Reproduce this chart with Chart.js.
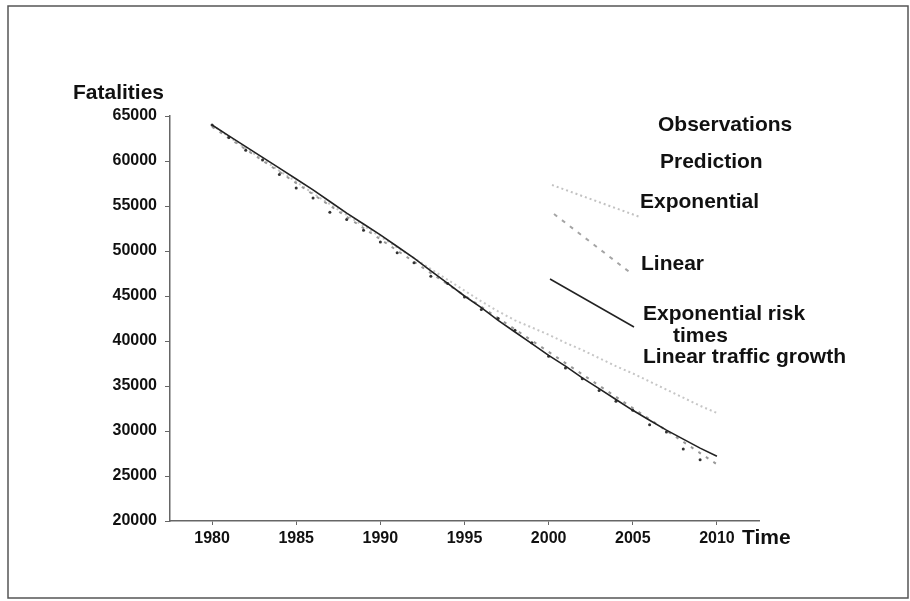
<!DOCTYPE html>
<html>
<head>
<meta charset="utf-8">
<script src="https://cdn.jsdelivr.net/npm/chart.js@4.4.0/dist/chart.umd.min.js"></script>
<style>
  html, body { margin: 0; padding: 0; background: #fff; }
  #wrap { width: 910px; height: 601px; }
</style>
</head>
<body>
<div id="wrap"><canvas id="fatalChart" width="910" height="601"></canvas></div>
<script>
// years on the x axis
const years = [1980, 1981, 1982, 1983, 1984, 1985, 1986, 1987, 1988, 1989, 1990,
               1991, 1992, 1993, 1994, 1995, 1996, 1997, 1998, 1999, 2000,
               2001, 2002, 2003, 2004, 2005, 2006, 2007, 2008, 2009, 2010];

// exponential risk times linear traffic growth (solid line)
const expRiskTraffic = [64000, 62800, 61600, 60400, 59200, 58000, 56800, 55500, 54200, 53000, 51800,
                        50500, 49200, 47800, 46400, 45000, 43700, 42300, 41000, 39700, 38400,
                        37200, 35900, 34700, 33500, 32300, 31200, 30100, 29100, 28100, 27200];

// exponential prediction (light dotted)
const exponential = [64000, 62700, 61400, 60200, 58900, 57700, 56400, 55200, 54000, 52800, 51600,
                     50400, 49200, 48000, 46800, 45600, 44400, 43300, 42300, 41500, 40700,
                     39800, 39000, 38100, 37200, 36400, 35500, 34600, 33700, 32800, 32000];

// linear prediction (grey dashed)
const linear = [63800, 62550, 61300, 60050, 58800, 57550, 56300, 55050, 53800, 52550, 51300,
                50050, 48800, 47550, 46300, 45050, 43800, 42550, 41300, 40050, 38800,
                37550, 36300, 35050, 33800, 32550, 31300, 30050, 28800, 27550, 26300];

// observations (dark dots)
const obsYears = [1980, 1981, 1982, 1983, 1984, 1985, 1986, 1987, 1988, 1989, 1990,
                  1991, 1992, 1993, 1994, 1995, 1996, 1997, 1998, 1999, 2000,
                  2001, 2002, 2003, 2004, 2005, 2006, 2007, 2008, 2009];
const observations = [64000, 62600, 61200, 60100, 58500, 57000, 55900, 54300, 53500, 52300, 51000,
                      49800, 48700, 47200, 46400, 44900, 43500, 42500, 41200, 39800, 38300,
                      37000, 35800, 34500, 33300, 32300, 30700, 29900, 28000, 26800];

const yTicks = [20000, 25000, 30000, 35000, 40000, 45000, 50000, 55000, 60000, 65000];
const xTicks = [1980, 1985, 1990, 1995, 2000, 2005, 2010];

const FONT = '"Liberation Sans", Arial, sans-serif';
const toPoints = (xs, ys) => xs.map((x, i) => ({ x: x, y: ys[i] }));

// frame, axis names and the hand-placed legend
const overlay = {
    id: 'overlay',
    afterDraw(chart) {
        const ctx = chart.ctx;
        const xs = chart.scales.x;
        ctx.save();
        ctx.strokeStyle = '#555';
        ctx.lineWidth = 1.5;
        ctx.strokeRect(8, 6, 900, 592);

        ctx.fillStyle = '#111';
        ctx.textBaseline = 'middle';
        ctx.textAlign = 'left';
        ctx.font = 'bold 21px ' + FONT;
        ctx.fillText('Fatalities', 73, 93);
        ctx.fillText('Time', xs.getPixelForValue(2010) + 25, 538);

        ctx.fillText('Observations', 658, 125);
        ctx.fillText('Prediction', 660, 162);
        ctx.fillText('Exponential', 640, 202);
        ctx.fillText('Linear', 641, 264);
        ctx.fillText('Exponential risk', 643, 314);
        ctx.fillText('times', 673, 336);
        ctx.fillText('Linear traffic growth', 643, 357);

        // legend samples
        ctx.lineWidth = 2;
        ctx.strokeStyle = '#c2c2c2';
        ctx.setLineDash([2, 3]);
        ctx.beginPath(); ctx.moveTo(552, 185); ctx.lineTo(640, 217); ctx.stroke();

        ctx.strokeStyle = '#a5a5a5';
        ctx.setLineDash([4, 6]);
        ctx.beginPath(); ctx.moveTo(554, 214); ctx.lineTo(632, 274); ctx.stroke();

        ctx.setLineDash([]);
        ctx.strokeStyle = '#222';
        ctx.lineWidth = 1.5;
        ctx.beginPath(); ctx.moveTo(550, 279); ctx.lineTo(634, 327); ctx.stroke();
        ctx.restore();
    }
};

const ctx = document.getElementById('fatalChart').getContext('2d');
const fatalChart = new Chart(ctx, {
    type: 'line',
    data: {
        datasets: [{
            label: 'Exponential risk times Linear traffic growth',
            data: toPoints(years, expRiskTraffic),
            borderColor: '#222',
            borderWidth: 1.6,
            pointRadius: 0,
            fill: false
        }, {
            label: 'Observations',
            data: toPoints(obsYears, observations),
            showLine: false,
            pointRadius: 1.5,
            pointBorderWidth: 0,
            pointBackgroundColor: '#333'
        }, {
            label: 'Linear',
            data: toPoints(years, linear),
            borderColor: '#999',
            borderWidth: 2,
            borderDash: [3, 6],
            pointRadius: 0,
            fill: false
        }, {
            label: 'Exponential',
            data: toPoints(years, exponential),
            borderColor: '#c6c6c6',
            borderWidth: 2,
            borderDash: [2, 3],
            pointRadius: 0,
            fill: false
        }]
    },
    options: {
        responsive: false,
        animation: false,
        devicePixelRatio: 1,
        layout: { padding: { left: 0, top: 116, right: 151, bottom: 0 } },
        plugins: {
            legend: { display: false },
            tooltip: { enabled: false }
        },
        scales: {
            x: {
                type: 'linear',
                min: 1977.5,
                max: 2012.5,
                afterBuildTicks: s => { s.ticks = xTicks.map(v => ({ value: v })); },
                afterFit: s => { s.height = 80; },
                grid: { drawOnChartArea: false, tickLength: 4, color: '#666' },
                border: { color: '#666', width: 1.5 },
                ticks: {
                    padding: 4,
                    color: '#111',
                    font: { family: FONT, size: 16, weight: 'bold' },
                    callback: v => String(v)
                }
            },
            y: {
                min: 20000,
                max: 65000,
                afterBuildTicks: s => { s.ticks = yTicks.map(v => ({ value: v })); },
                afterFit: s => { s.width = 170; },
                grid: { drawOnChartArea: false, tickLength: 5, color: '#666' },
                border: { color: '#666', width: 1.5 },
                ticks: {
                    padding: 8,
                    color: '#111',
                    font: { family: FONT, size: 16, weight: 'bold' },
                    callback: v => String(v)
                }
            }
        }
    },
    plugins: [overlay]
});
</script>
</body>
</html>
